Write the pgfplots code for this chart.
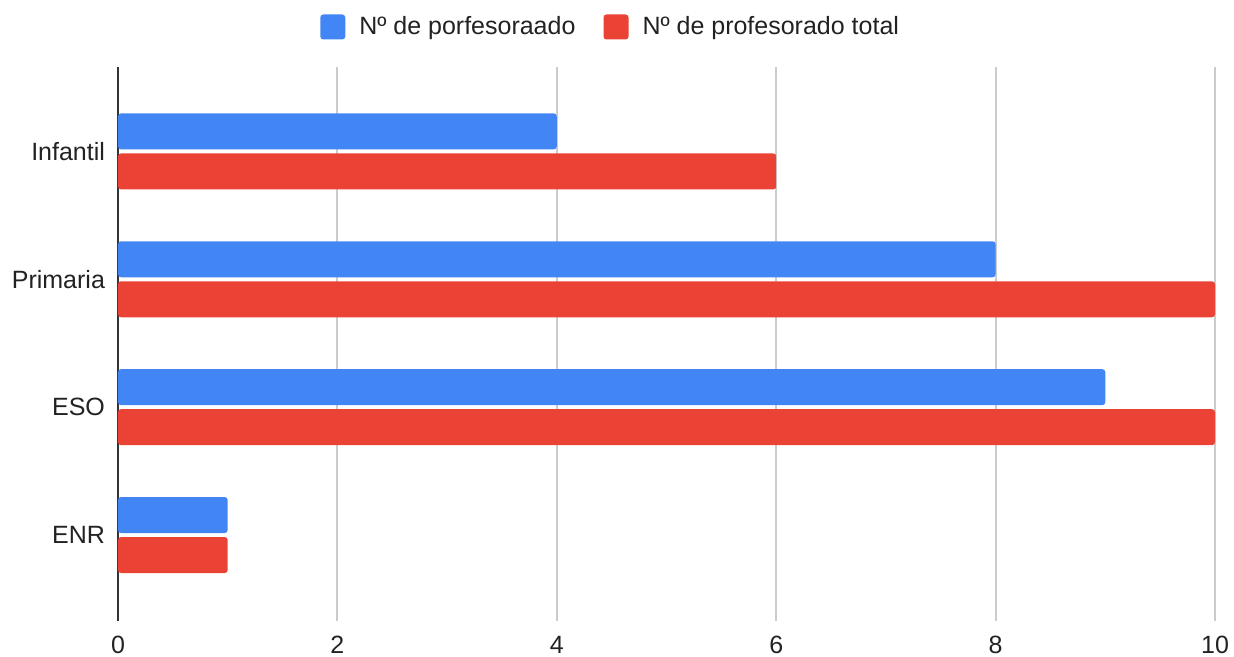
\documentclass[border=0pt]{standalone}
\usepackage{fontspec}
\setmainfont{Liberation Sans}
\usepackage{pgfplots}
\pgfplotsset{compat=1.18}
\definecolor{gblue}{HTML}{4285F4}
\definecolor{gred}{HTML}{EA4335}
\definecolor{gridgray}{HTML}{CCCCCC}
\definecolor{axisdark}{HTML}{333333}
\definecolor{txt}{HTML}{222222}
\begin{document}
\begin{tikzpicture}
\path[use as bounding box] (-59pt,-18pt) rectangle (558pt,310.5pt);
\begin{axis}[
  at={(0,0)}, anchor=south west,
  scale only axis, width=548.5pt, height=277pt,
  xbar, bar width=18pt,
  xmin=0, xmax=10, ymin=-0.672, ymax=3.66,
  ytick={0,1,2,3}, yticklabels={ENR,ESO,Primaria,Infantil},
  xtick={2,4,6,8,10},
  extra x ticks={0}, extra x tick labels={0},
  extra x tick style={grid style={draw=axisdark, line width=1pt}},
  xmajorgrids, grid style={gridgray, line width=1pt},
  axis line style={draw=none},
  major tick length=0pt,
  /pgf/number format/assume math mode=true,
  tick label style={font=\fontsize{12.5pt}{15pt}\selectfont, text=txt},
  xticklabel style={anchor=center, yshift=-12pt},
  yticklabel style={anchor=east, xshift=-3pt},
  legend style={at={(0.45,1)}, anchor=center, yshift=20pt, draw=none,
    fill=none, inner sep=0pt,
    font=\fontsize{12.5pt}{15pt}\selectfont, text=txt,
    /tikz/every odd column/.append style={column sep=5pt},
    /tikz/every even column/.append style={column sep=12pt}},
  legend columns=2,
]
\addplot[fill=gblue, draw=none, bar shift=10pt, rounded corners=1.5pt,
  legend image code/.code={\fill[gblue, rounded corners=1.5pt] (0pt,-6.25pt) rectangle (12.5pt,6.25pt);}]
  coordinates {(4,3) (8,2) (9,1) (1,0)};
\addlegendentry{Nº de porfesoraado}
\addplot[fill=gred, draw=none, bar shift=-10pt, rounded corners=1.5pt,
  legend image code/.code={\fill[gred, rounded corners=1.5pt] (0pt,-6.25pt) rectangle (12.5pt,6.25pt);}]
  coordinates {(6,3) (10,2) (10,1) (1,0)};
\addlegendentry{Nº de profesorado total}
\end{axis}
\end{tikzpicture}
\end{document}
